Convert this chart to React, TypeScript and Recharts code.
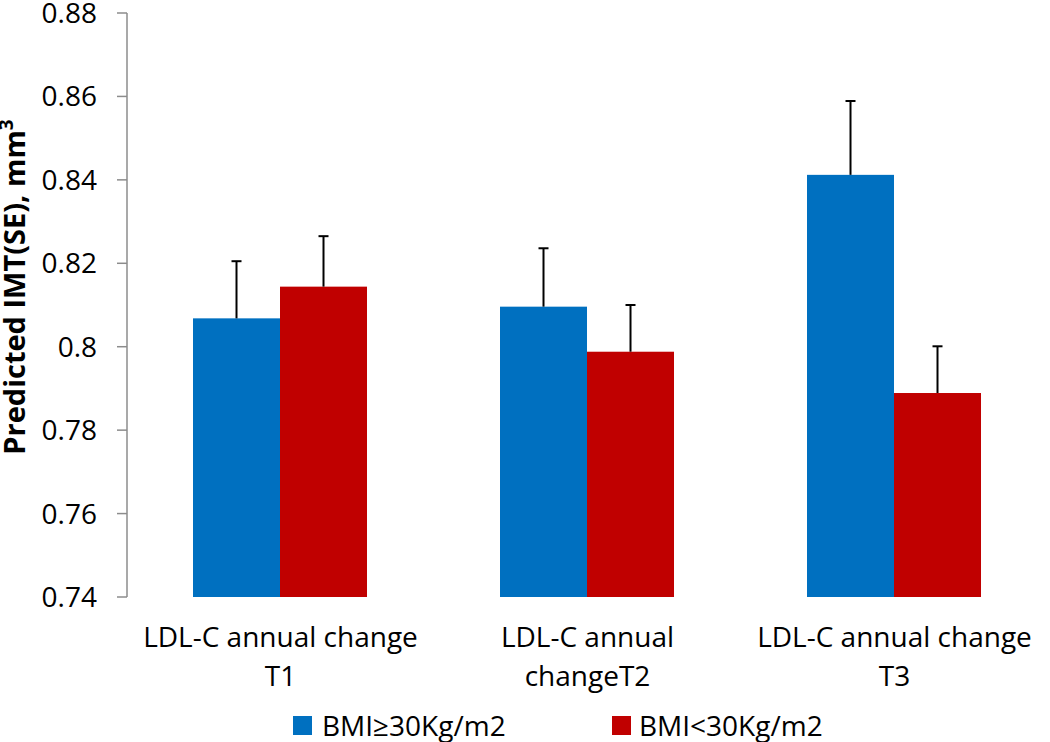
import { BarChart, Bar, XAxis, YAxis, Legend } from 'recharts';

const categories = ['LDL-C annual change\nT1', 'LDL-C annual\nchangeT2', 'LDL-C annual change\nT3'];
const obeseValues = [0.8068, 0.8096, 0.8412];
const obeseSE = [0.0137, 0.0140, 0.0177];
const leanValues = [0.8144, 0.7988, 0.7889];
const leanSE = [0.0121, 0.0112, 0.0112];
const yTicks = [0.74, 0.76, 0.78, 0.8, 0.82, 0.84, 0.86, 0.88];
const Y_MIN = 0.74;

const BLUE = '#0070C0';
const RED = '#C00000';
const AXIS = '#8c8c8c';
const FONT = '"Open Sans", sans-serif';

const data = categories.map((name, i) => ({
  name,
  idx: i,
  obese: obeseValues[i],
  obeseErr: obeseSE[i],
  lean: leanValues[i],
  leanErr: leanSE[i],
}));

// bar with one-sided (upward) error whisker, scaled from the bar's own pixel height
const barWithError = (fill: string, errKey: string) => (props: any) => {
  const { x, y, width, height, payload, value } = props;
  const v = Array.isArray(value) ? value[1] : value;
  const pxPerUnit = height / (v - Y_MIN);
  const errPx = payload[errKey] * pxPerUnit;
  const cx = x + width / 2;
  return (
    <g>
      <rect x={x} y={y} width={width} height={height} fill={fill} />
      <line x1={cx} y1={y} x2={cx} y2={y - errPx} stroke="#000" strokeWidth={2} />
      <line x1={cx - 5} y1={y - errPx} x2={cx + 5} y2={y - errPx} stroke="#000" strokeWidth={2} />
    </g>
  );
};

const CategoryTick = (props: any) => {
  const { x, y, payload } = props;
  const lines = String(payload.value).split('\n');
  return (
    <text x={x} y={y} textAnchor="middle" fontFamily={FONT} fontSize={28} fill="#000">
      {lines.map((l, i) => (
        <tspan key={i} x={x} dy={i === 0 ? 42 : 39}>{l}</tspan>
      ))}
    </text>
  );
};

const YLabel = (props: any) => {
  const { viewBox } = props;
  const cx = 25;
  const cy = viewBox.y + viewBox.height / 2 - 18;
  return (
    <text x={cx} y={cy} transform={`rotate(-90, ${cx}, ${cy})`} textAnchor="middle"
      fontFamily={FONT} fontWeight="bold" fontSize={29} fill="#000">
      Predicted IMT(SE), mm<tspan dy={-12} fontSize={19}>3</tspan>
    </text>
  );
};

const LegendContent = () => (
  <div style={{ display: 'flex', paddingTop: 24, paddingLeft: 293, fontFamily: FONT, fontSize: 28, lineHeight: '38px', color: '#000' }}>
    <div style={{ display: 'flex', alignItems: 'center', width: 319 }}>
      <span style={{ display: 'inline-block', width: 19, height: 19, background: BLUE, marginRight: 10 }} />
      BMI≥30Kg/m2
    </div>
    <div style={{ display: 'flex', alignItems: 'center' }}>
      <span style={{ display: 'inline-block', width: 19, height: 19, background: RED, marginRight: 8 }} />
      BMI&lt;30Kg/m2
    </div>
  </div>
);

export default function App() {
  return (
    <div style={{ position: 'absolute', left: 0, top: 0, width: 1050, height: 742, background: '#fff' }}>
      <BarChart width={1050} height={742} data={data} barGap={0} barCategoryGap="21.5%"
        margin={{ top: 13, right: 2, bottom: 0, left: 0 }}>
        <XAxis xAxisId="ticks" type="number" dataKey="idx" domain={[0, 3]} ticks={[0, 1, 2, 3]}
          height={0} tick={false} tickSize={10} axisLine={{ stroke: AXIS, strokeWidth: 1.5 }}
          tickLine={{ stroke: AXIS, strokeWidth: 1.5 }} />
        <XAxis dataKey="name" height={85} interval={0} axisLine={false} tickLine={false} tick={<CategoryTick />} />
        <YAxis width={127} domain={[0.74, 0.88]} ticks={yTicks} interval={0} allowDataOverflow
          tickFormatter={(v: number) => String(Number(v.toFixed(2)))}
          tick={{ fontFamily: FONT, fontSize: 28, fill: '#000' }} tickSize={10} tickMargin={20}
          axisLine={{ stroke: AXIS, strokeWidth: 1.5 }} tickLine={{ stroke: AXIS, strokeWidth: 1.5 }}
          label={<YLabel />} />
        <Legend verticalAlign="bottom" height={60} content={<LegendContent />} />
        <Bar dataKey="obese" fill={BLUE} isAnimationActive={false} shape={barWithError(BLUE, 'obeseErr')} />
        <Bar dataKey="lean" fill={RED} isAnimationActive={false} shape={barWithError(RED, 'leanErr')} />
      </BarChart>
    </div>
  );
}
